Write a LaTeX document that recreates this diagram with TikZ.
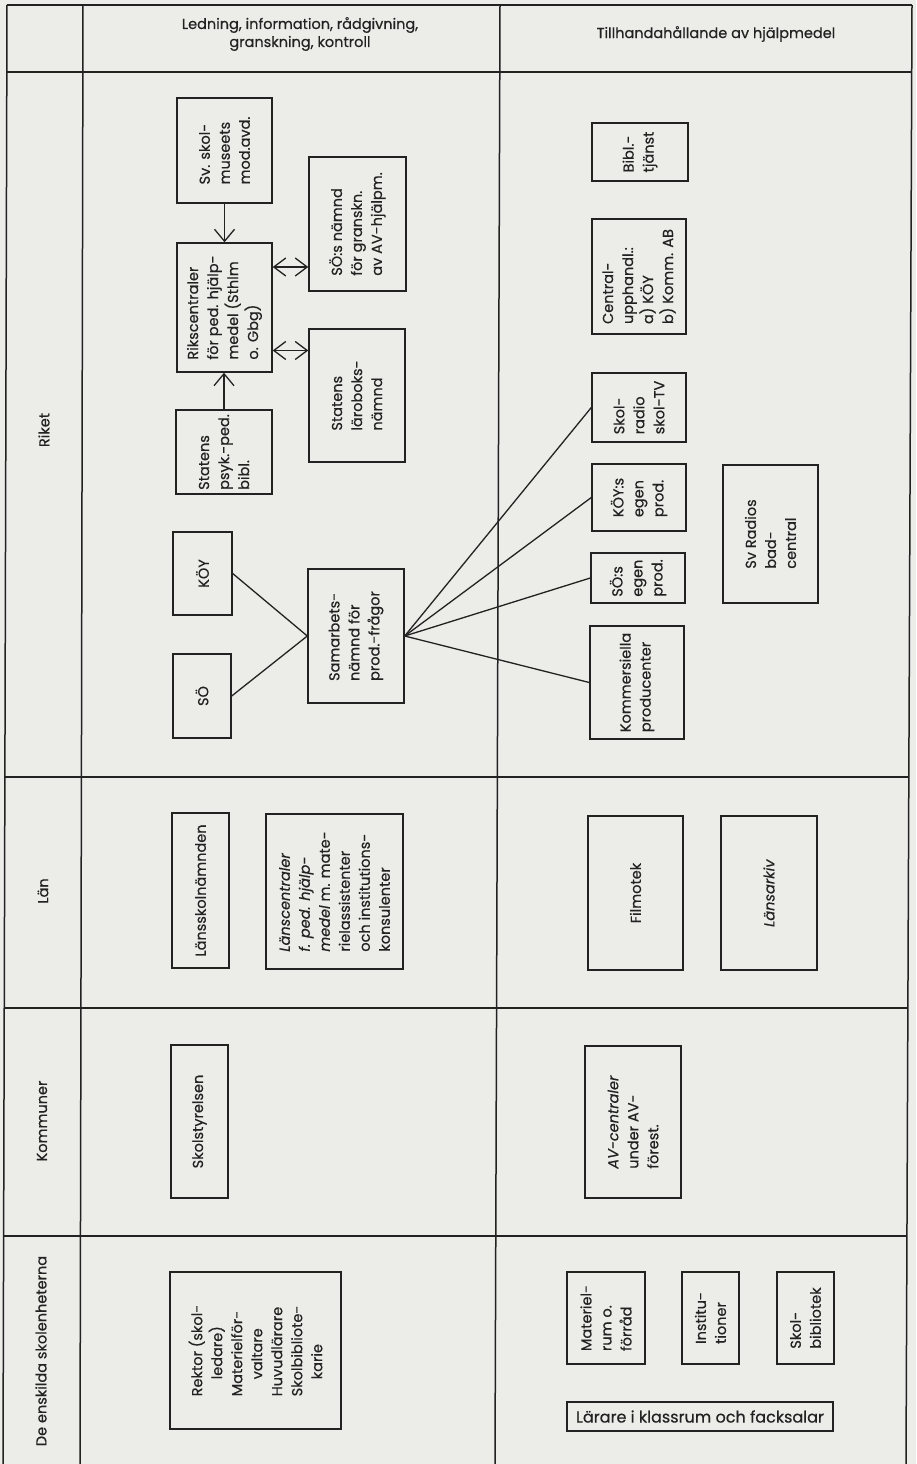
\documentclass[tikz,border=0pt]{standalone}
\usepackage{fontspec}
\setmainfont{Poppins}[FakeBold=0.5]
\usepackage{tikz}
\usetikzlibrary{arrows.meta}
\usetikzlibrary{calc}
\definecolor{paper}{RGB}{236,236,233}
\definecolor{ink}{RGB}{34,34,34}
\tikzstyle{box}=[draw=ink, line width=1.4pt, inner sep=0pt]
\tikzstyle{vtext}=[rotate=90, align=left, text=ink, inner sep=0pt, font=\fontsize{14.5pt}{20pt}\selectfont]
\tikzstyle{htext}=[align=center, text=ink, inner sep=0pt, font=\fontsize{14.5pt}{18pt}\selectfont]
\tikzstyle{rule}=[draw=ink, line width=1.5pt]
\tikzstyle{link}=[draw=ink, line width=1.3pt]
\tikzstyle{linkArrow}=[link, -{Straight Barb[length=12pt,width=20pt]}]
\tikzstyle{dblArrow}=[link, {Straight Barb[length=12pt,width=18pt]}-{Straight Barb[length=12pt,width=18pt]}]

\begin{document}
\begin{tikzpicture}[x=1pt, y=-1pt]
  \fill[paper] (0,0) rectangle (916,1464);
  \useasboundingbox (0,0) rectangle (916,1464);

  % Table rules
  \draw[rule] (7,5) -- (3,1464);
  \draw[rule] (83,5) -- (80,1464);
  \draw[rule] (500,5) -- (495,1464);
  \draw[rule] (912,5) -- (906,1464);
  \draw[rule] (7,5) -- (912,5);
  \draw[rule] (7,72) -- (912,72);
  \draw[rule] (5,777) -- (909,777);
  \draw[rule] (4,1008) -- (908,1008);
  \draw[rule] (4,1236) -- (907,1236);

  % Headings
  \node (leadhead) at (300,34) [htext] {Ledning, information, rådgivning,\\granskning, kontroll};
  \node (supplyhead) at (716,34) [htext] {Tillhandahållande av hjälpmedel};
  \node (riket) at (44,430) [vtext] {Riket};
  \node (lan) at (43,891) [vtext] {Län};
  \node (kommuner) at (42,1121) [vtext] {Kommuner};
  \node (skolenheter) at (41,1351) [vtext] {De enskilda skolenheterna};

  % Nodes, Riket
  \node (svskol) at (224.5,150.5) [box, minimum width=95pt, minimum height=105pt] {};
  \node (svskoltext) at (224.5,150.5) [vtext] {Sv. skol-\\museets\\mod.avd.};

  \node (riks) at (224.5,307.5) [box, minimum width=95pt, minimum height=129pt] {};
  \node (rikstext) at (224.5,307.5) [vtext] {Rikscentraler\\för ped. hjälp-\\medel (Sthlm\\o. Gbg)};

  \node (sonamnd) at (357.5,224) [box, minimum width=97pt, minimum height=134pt] {};
  \node (sonamndtext) at (357.5,224) [vtext] {SÖ:s nämnd\\för granskn.\\av AV-hjälpm.};

  \node (larobok) at (357,395.5) [box, minimum width=96pt, minimum height=133pt] {};
  \node (laroboktext) at (357,395.5) [vtext] {Statens\\läroboks-\\nämnd};

  \node (psyk) at (224,452) [box, minimum width=96pt, minimum height=84pt] {};
  \node (psyktext) at (224,452) [vtext] {Statens\\psyk.-ped.\\bibl.};

  \node (koy) at (202.5,573.5) [box, minimum width=59pt, minimum height=83pt] {};
  \node (koytext) at (202.5,573.5) [vtext] {KÖY};

  \node (so) at (202,696) [box, minimum width=58pt, minimum height=84pt] {};
  \node (sotext) at (202,696) [vtext] {SÖ};

  \node (samarb) at (356,636) [box, minimum width=96pt, minimum height=134pt] {};
  \node (samarbtext) at (356,636) [vtext] {Samarbets-\\nämnd för\\prod.-frågor};

  \node (bibl) at (640,152) [box, minimum width=96pt, minimum height=58pt] {};
  \node (bibltext) at (640,152) [vtext] {Bibl.-\\tjänst};

  \node (upphandl) at (639,276.5) [box, minimum width=94pt, minimum height=115pt] {};
  \node (upphandltext) at (639,276.5) [vtext] {Central-\\upphandl.:\\a) KÖY\\b) Komm. AB};

  \node (skolradio) at (639,407.5) [box, minimum width=94pt, minimum height=69pt] {};
  \node (skolradiotext) at (639,407.5) [vtext] {Skol-\\radio\\skol-TV};

  \node (koyprod) at (639,497.5) [box, minimum width=94pt, minimum height=67pt] {};
  \node (koyprodtext) at (639,497.5) [vtext] {KÖY:s\\egen\\prod.};

  \node (soprod) at (638,578) [box, minimum width=94pt, minimum height=50pt] {};
  \node (soprodtext) at (638,578) [vtext] {SÖ:s\\egen\\prod.};

  \node (svradio) at (770.5,534) [box, minimum width=95pt, minimum height=138pt] {};
  \node (svradiotext) at (770.5,534) [vtext] {Sv Radios\\bad-\\central};

  \node (kommers) at (637,682.5) [box, minimum width=94pt, minimum height=113pt] {};
  \node (kommerstext) at (637,682.5) [vtext] {Kommersiella\\producenter};

  % Nodes, Län
  \node (lansskol) at (200.5,890.5) [box, minimum width=57pt, minimum height=155pt] {};
  \node (lansskoltext) at (200.5,890.5) [vtext] {Länsskolnämnden};

  \node (lanscentr) at (334.5,891.5) [box, minimum width=137pt, minimum height=155pt] {};
  \node (lanscentrtext) at (334.5,891.5) [vtext] {\textit{Länscentraler}\\\textit{f. ped. hjälp-}\\\textit{medel} m. mate-\\rielassistenter\\och institutions-\\konsulenter};

  \node (filmotek) at (635.5,893) [box, minimum width=95pt, minimum height=154pt] {};
  \node (filmotektext) at (635.5,893) [vtext] {Filmotek};

  \node (lansarkiv) at (769,893) [box, minimum width=96pt, minimum height=154pt] {};
  \node (lansarkivtext) at (769,893) [vtext] {\textit{Länsarkiv}};

  % Nodes, Kommuner
  \node (skolstyr) at (199.5,1121.5) [box, minimum width=57pt, minimum height=153pt] {};
  \node (skolstyrtext) at (199.5,1121.5) [vtext] {Skolstyrelsen};

  \node (avcentr) at (633,1122) [box, minimum width=96pt, minimum height=152pt] {};
  \node (avcentrtext) at (633,1122) [vtext] {\textit{AV-centraler}\\under AV-\\förest.};

  % Nodes, skolenheter
  \node (rektor) at (255.5,1350.5) [box, minimum width=171pt, minimum height=157pt] {};
  \node (rektortext) at (255.5,1350.5) [vtext] {Rektor (skol-\\\hspace*{17pt}ledare)\\Materielför-\\\hspace*{17pt}valtare\\Huvudlärare\\Skolbibliote-\\\hspace*{17pt}karie};

  \node (materiel) at (606,1318) [box, minimum width=78pt, minimum height=92pt] {};
  \node (materieltext) at (606,1318) [vtext] {Materiel-\\rum o.\\förråd};

  \node (instit) at (710.5,1318) [box, minimum width=57pt, minimum height=92pt] {};
  \node (instittext) at (710.5,1318) [vtext] {Institu-\\tioner};

  \node (skolbibl) at (805.5,1318) [box, minimum width=57pt, minimum height=92pt] {};
  \node (skolbibltext) at (805.5,1318) [vtext] {Skol-\\bibliotek};

  \node (larare) at (700,1416.5) [box, minimum width=266pt, minimum height=29pt] {};
  \node (lararetext) at (700,1416.5) [htext, font=\fontsize{16pt}{18pt}\selectfont] {Lärare i klassrum och facksalar};

  % Connections
  \coordinate (m1) at ($(riks.north east)!0.5!(sonamnd.south west)$);
  \coordinate (m2) at ($(riks.south east)!0.5!(larobok.north west)$);
  \draw[linkArrow] (svskol.south) -- (riks.north);
  \draw[linkArrow] (psyk.north) -- (psyk.north |- riks.south);
  \draw[dblArrow] (riks.east |- m1) -- (sonamnd.west |- m1);
  \draw[dblArrow] (riks.east |- m2) -- (larobok.west |- m2);
  \draw[link] (koy.east) -- (samarb.west);
  \draw[link] (so.east) -- (samarb.west);
  \foreach \target in {skolradio, koyprod, soprod, kommers}
    \draw[link] (samarb.east) -- (\target.west);

\end{tikzpicture}
\end{document}
